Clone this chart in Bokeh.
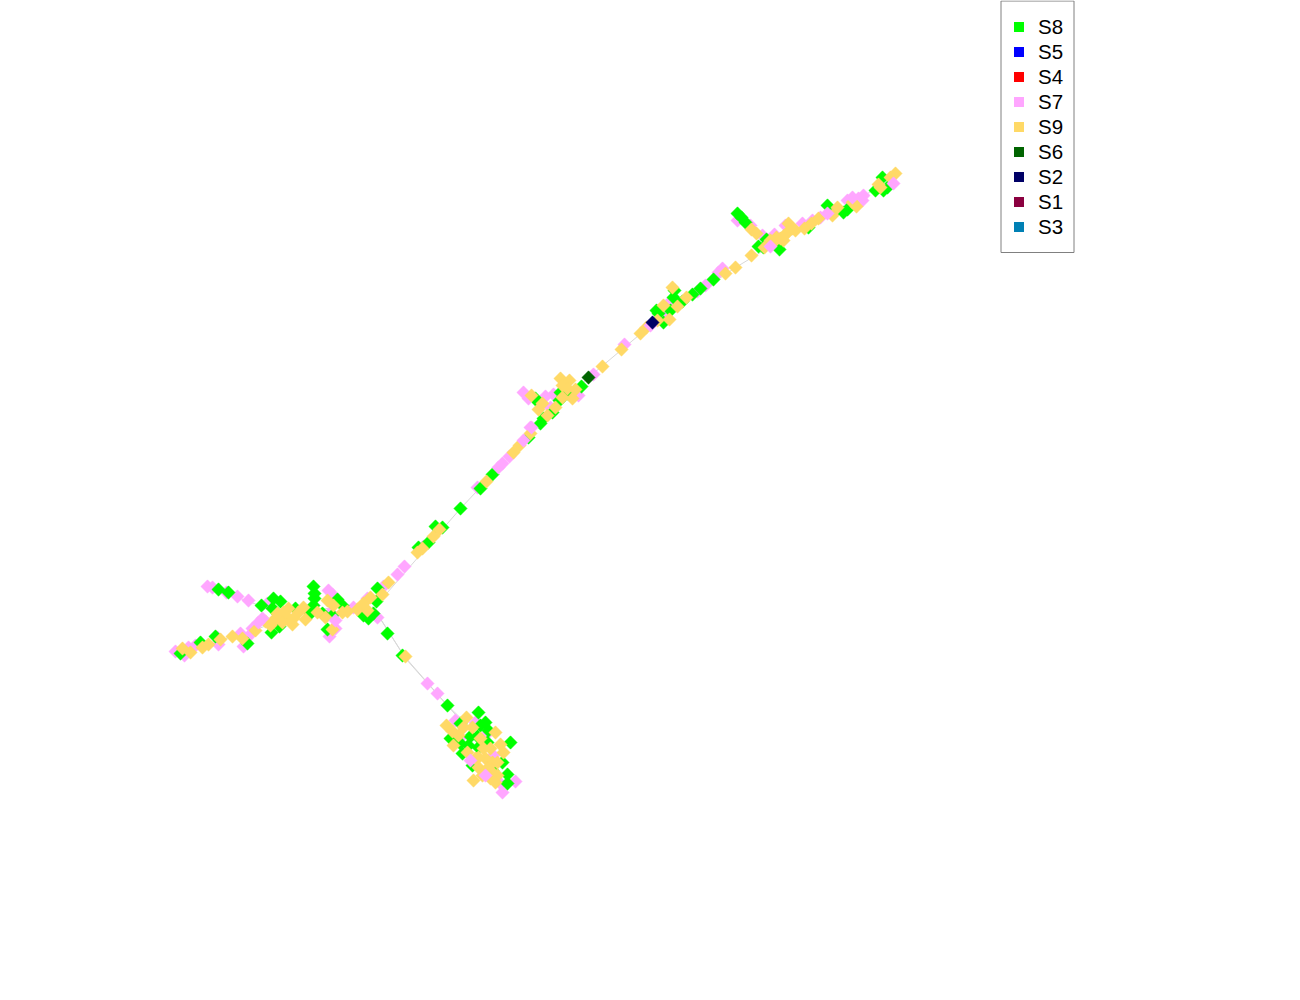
import math
from bokeh.embed import file_html
from bokeh.resources import INLINE
from bokeh.plotting import figure
from bokeh.models import Range1d, Legend, LegendItem, BoxAnnotation

# Layout coordinates, one (x, y) pair per node
s7_nodes = [(207,586),(212,587),(237,596),(248,600),(175,651),(184,655),(188,647),(217,637),(218,644),(240,633),
 (248,636),(243,646),(267,603),(332,594),(330,612),(329,636),(353,607),(377,617),(383,586),
 (397,574),(195,645),(367,598),(437,693),(427,683),(455,720),(475,722),(460,737),(487,733),(502,792),(515,781),
 (500,783),(493,755),(404,566),(423,546),(477,487),(509,456),
 (530,427),(523,392),(528,398),(545,396),(553,394),(578,395),(593,374),(624,344),(663,313),
 (705,285),(697,291),(718,272),(550,407),(668,303),(737,220),(750,225),(762,235),(774,234),(802,223),
 (820,217),(847,200),(862,200),(722,268),(335,628),(328,590),
 (226,592),(812,220),(858,198),(785,225),(252,628)]
s7_top_nodes = [(498,467),(502,463),(523,440),(531,427),(893,183),(335,620),(485,775),(470,760),(258,622),(262,618),
 (827,213),(852,197),(863,195),(770,246),(650,325)]
s8_nodes = [(218,589),(228,592),(261,605),(273,598),(280,601),(272,608),(271,632),(279,626),(313,586),(314,593),
 (314,598),(313,605),(310,613),(322,613),(337,599),(327,629),(332,615),(342,605),(377,588),(376,601),(373,613),
 (368,618),(363,615),(387,633),(247,643),(180,653),(200,642),(215,636),(295,608),(402,655),(447,705),(478,712),
 (460,723),(450,738),(470,736),(510,742),(460,743),(462,753),(480,725),(488,730),(478,747),(472,765),(502,762),
 (507,774),(507,783),(487,742),(477,736),(428,542),(418,547),(435,526),(442,527),(460,508),(480,488),(492,474),
 (528,437),(540,423),(543,418),(552,412),(559,400),(567,393),(581,386),(535,398),(538,402),(560,392),(656,310),
 (658,313),(663,322),(670,310),(673,297),(674,290),(682,301),(692,294),(700,288),(713,279),(737,213),(741,217),
 (745,222),(758,246),(766,239),(779,249),(763,247),(808,227),(827,205),(834,212),(843,212),(847,209),(875,190),
 (883,190),(887,187),(882,177),(468,745),(492,770),(455,735),(485,722)]
s9_nodes = [(182,648),(190,652),(202,647),(208,644),(220,639),(232,636),(242,638),(255,630),(265,621),(275,618),
 (270,625),(277,613),(288,608),(287,617),(292,624),(298,612),(303,607),(305,619),(317,612),(325,617),(327,600),
 (333,605),(332,629),(342,612),(347,611),(357,609),(367,610),(363,603),(370,597),(382,594),(388,582),(405,656),
 (446,725),(452,731),(466,717),(463,727),(472,727),(453,745),(495,732),(467,752),(483,748),(490,748),(500,744),
 (503,752),(475,758),(478,767),(473,780),(492,762),(497,762),(490,770),(497,775),(495,782),(485,758),(417,552),
 (422,548),(433,536),(439,529),(486,481),(513,452),(519,445),(530,433),(531,395),(542,403),(538,409),(547,415),
 (560,378),(569,380),(562,385),(555,407),(562,397),(572,398),(575,389),(567,388),(602,366),(621,349),(640,333),
 (646,327),(657,320),(669,319),(663,305),(672,287),(677,306),(686,297),(725,273),(735,267),(751,229),(756,233),
 (764,247),(774,241),(780,238),(788,223),(787,232),(795,230),(783,240),(770,240),(811,223),(818,218),(832,215),
 (837,207),(852,202),(856,206),(878,184),(890,177),(895,173),(751,255),(283,612),(293,618),(272,622),(282,622),
 (478,757),(487,768),(482,775),(490,778),(480,738),(458,735),(776,237),(792,228),(784,235),(804,228),(880,187)]
s6_nodes = [(588,377)]
s2_nodes = [(652,322)]

# Tree edges behind the nodes
edge_paths = [
 [(175,651),(248,632),(300,612),(380,600),(460,508),(540,423),(588,377),(650,325),(735,267),(780,240),(850,205),(893,175)],
 [(207,586),(262,606),(300,612)],
 [(372,606),(404,656),(447,705),(470,727),(500,780)],
 [(376,612),(405,658),(445,703),(462,722)],
]

categories = ["S8","S5","S4","S7","S9","S6","S2","S1","S3"]
colors = {"S8":"#00ff00","S5":"#0000ff","S4":"#ff0000","S7":"#ffa6ff","S9":"#ffd966",
          "S6":"#006400","S2":"#000066","S1":"#8b0040","S3":"#0080b4"}

p = figure(width=1284, height=984, x_range=Range1d(0,1284), y_range=Range1d(984,0),
           output_backend="svg", toolbar_location=None, min_border=0,
           x_axis_type=None, y_axis_type=None, outline_line_color=None)
p.grid.visible = False

p.multi_line([[q[0] for q in e] for e in edge_paths], [[q[1] for q in e] for e in edge_paths],
             line_color="#d8d8d8", line_width=1)

side = 9.4
for name, nodes in [("S7",s7_nodes),("S8",s8_nodes),("S9",s9_nodes),("S7",s7_top_nodes),("S6",s6_nodes),("S2",s2_nodes)]:
    p.scatter([q[0] for q in nodes],[q[1] for q in nodes], marker="square", size=side, angle=math.pi/4,
              fill_color=colors[name], line_color=colors[name], line_width=0.5)

items = []
for c in categories:
    r = p.scatter(x=[float("nan")], y=[float("nan")], marker="square", size=10, fill_color=colors[c], line_color=None)
    items.append(LegendItem(label=c, renderers=[r]))

legend = Legend(items=items, location=(1000,739), padding=6, margin=0, spacing=0,
                glyph_width=25, glyph_height=25, label_standoff=7, label_height=25,
                label_text_font="Liberation Sans", label_text_font_size="20.5px", label_text_color="#000000",
                border_line_alpha=0, background_fill_alpha=0)
p.add_layout(legend, "center")
p.add_layout(BoxAnnotation(left=1000.5, right=1073.5, top=0.5, bottom=252, fill_alpha=0,
                           line_color="#808080", line_alpha=1, line_width=1))

open("out.html","w").write(file_html(p, INLINE))
